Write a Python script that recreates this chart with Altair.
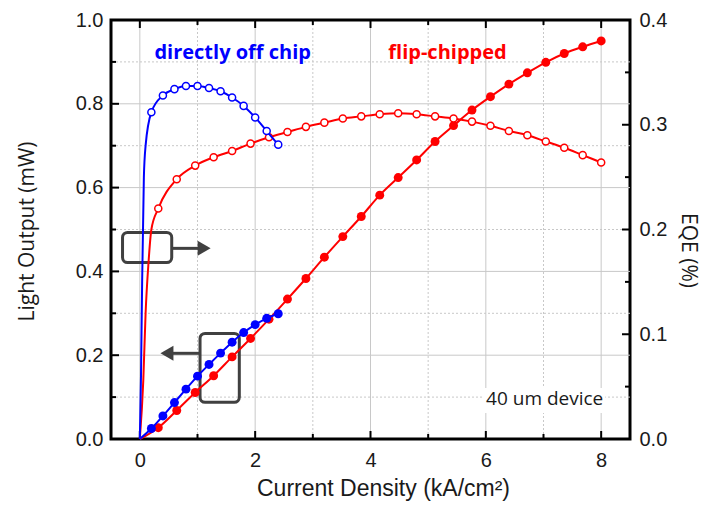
import altair as alt
import pandas as pd

# ---------------- data ----------------
# directly off chip (blue)
blue_J = [0.2, 0.4, 0.6, 0.8, 1.0, 1.2, 1.4, 1.6, 1.8, 2.0, 2.2, 2.4]
blue_L = [0.025, 0.055, 0.087, 0.119, 0.150, 0.178, 0.205, 0.231, 0.254, 0.273, 0.288, 0.299]
blue_EQE = [0.312, 0.328, 0.334, 0.337, 0.337, 0.335, 0.332, 0.326, 0.318, 0.307, 0.294, 0.281]
blue_onset_J = [0.0, 0.02, 0.04, 0.07, 0.1]
blue_onset_EQE = [0.0, 0.06, 0.15, 0.25, 0.28]

# flip-chipped (red)
red_J = [0.32, 0.64, 0.96, 1.28, 1.60, 1.92, 2.24, 2.56, 2.88, 3.20, 3.52, 3.84, 4.16,
         4.48, 4.80, 5.12, 5.44, 5.76, 6.08, 6.40, 6.72, 7.04, 7.36, 7.68, 8.00]
red_L = [0.027, 0.068, 0.111, 0.151, 0.196, 0.240, 0.286, 0.334, 0.383, 0.434, 0.483, 0.531, 0.582,
         0.624, 0.666, 0.710, 0.748, 0.785, 0.817, 0.847, 0.874, 0.899, 0.920, 0.936, 0.950]
red_EQE = [0.220, 0.248, 0.261, 0.269, 0.275, 0.282, 0.288, 0.293, 0.298, 0.302, 0.306, 0.308, 0.310,
           0.311, 0.310, 0.308, 0.306, 0.303, 0.299, 0.294, 0.290, 0.284, 0.278, 0.271, 0.264]
red_onset_J = [0.0, 0.06, 0.1, 0.15, 0.2]
red_onset_EQE = [0.0, 0.056, 0.12, 0.168, 0.2]

# tick values
x_major = [0, 2, 4, 6, 8]
x_minor = [1, 3, 5, 7]
yl_major = [0.2, 0.4, 0.6, 0.8]
yl_minor = [0.1, 0.3, 0.5, 0.7, 0.9]
yl_labels = [0.0, 0.2, 0.4, 0.6, 0.8, 1.0]
yr_major = [0.1, 0.2, 0.3]
yr_minor = [0.05, 0.15, 0.25, 0.35]
yr_labels = [0.0, 0.1, 0.2, 0.3, 0.4]

# annotations
series_labels = ["directly off chip", "flip-chipped"]
series_label_J = [1.61, 5.335]
series_label_L = [0.921, 0.921]
note_text = "40 um device"
note_J, note_L = 7.02, 0.0955
note_box = dict(J1=5.95, J2=8.07, L1=0.062, L2=0.122)
box1 = dict(J1=-0.30, J2=0.553, L1=0.421, L2=0.493)
box2 = dict(J1=1.044, J2=1.725, L1=0.0876, L2=0.252)
arrow1 = dict(J1=0.553, J2=1.02, L=0.455, head_J=1.115)
arrow2 = dict(J1=1.044, J2=0.55, L=0.2045, head_J=0.47)

# ---------------- styling ----------------
W, H = 519, 419
BLUE, RED = "#0000ff", "#ff0000"
GRID = "#c8c8c8"
DARK = "#404040"
TXT = "#1a1a1a"

xs = alt.Scale(domain=[-0.5, 8.5], nice=False, zero=False)
yl = alt.Scale(domain=[0, 1], nice=False, zero=False)
yr = alt.Scale(domain=[0, 0.4], nice=False, zero=False)

x_axis = alt.Axis(values=x_major, format="d", ticks=False, grid=False, domain=False,
                  labelFont="Liberation Sans", labelFontSize=20, labelColor=TXT, labelPadding=11,
                  labelFlush=False, labelOverlap=False,
                  title="Current Density (kA/cm²)", titleFont="Liberation Sans", titleFontSize=23,
                  titleFontWeight="normal", titleColor=TXT, titleX=272, titleY=49,
                  titleAlign="center", titleBaseline="middle")
yl_axis = alt.Axis(values=yl_labels, format=".1f", ticks=False, grid=False, domain=False,
                   labelFont="Liberation Sans", labelFontSize=20, labelColor=TXT, labelPadding=8,
                   labelFlush=False, labelOverlap=False,
                   title="Light Output (mW)", titleFont="Open Sans", titleFontSize=21,
                   titleFontWeight="normal", titleColor=TXT, titleAngle=270, titleX=-84, titleY=211,
                   titleAlign="center", titleBaseline="middle")
yr_axis = alt.Axis(orient="right", values=yr_labels, format=".1f", ticks=False, grid=False, domain=False,
                   labelFont="Liberation Sans", labelFontSize=20, labelColor=TXT, labelPadding=9,
                   labelFlush=False, labelOverlap=False,
                   title="EQE (%)", titleFont="Open Sans", titleFontSize=21,
                   titleFontWeight="normal", titleColor=TXT, titleAngle=90, titleX=57, titleY=230,
                   titleAlign="center", titleBaseline="middle")


def X(f):
    return alt.X(f + ":Q", scale=xs, axis=x_axis)


def YL(f):
    return alt.Y(f + ":Q", scale=yl, axis=yl_axis)


def YR(f):
    return alt.Y(f + ":Q", scale=yr, axis=yr_axis)


df = lambda **kw: pd.DataFrame(kw)

# grid lines
vgrid_major = alt.Chart(df(v=x_major)).mark_rule(color=GRID, strokeWidth=1).encode(x=X("v"))
vgrid_minor = alt.Chart(df(v=x_minor)).mark_rule(color=GRID, strokeWidth=1, strokeDash=[2, 2]).encode(x=X("v"))
hgrid_major = alt.Chart(df(v=yl_major)).mark_rule(color=GRID, strokeWidth=1).encode(y=YL("v"))
hgrid_minor = alt.Chart(df(v=yl_minor)).mark_rule(color=GRID, strokeWidth=1, strokeDash=[2, 2]).encode(y=YL("v"))


# ticks (inward)
def xticks(vals, length):
    d = df(v=vals)
    bottom = alt.Chart(d).mark_rule(color="black", strokeWidth=2).encode(
        x=X("v"), y=alt.value(H), y2=alt.value(H - length))
    top = alt.Chart(d).mark_rule(color="black", strokeWidth=2).encode(
        x=X("v"), y=alt.value(0), y2=alt.value(length))
    return [bottom, top]


def lticks(vals, length):
    return alt.Chart(df(v=vals)).mark_rule(color="black", strokeWidth=2).encode(
        y=YL("v"), x=alt.value(0), x2=alt.value(length))


def rticks(vals, length):
    return alt.Chart(df(v=vals)).mark_rule(color="black", strokeWidth=2).encode(
        y=YR("v"), x=alt.value(W), x2=alt.value(W - length))


# note box + text
note_bg = alt.Chart(df(J1=[note_box["J1"]], J2=[note_box["J2"]], L1=[note_box["L1"]], L2=[note_box["L2"]])).mark_rect(
    fill="white").encode(x=X("J1"), x2="J2", y=YL("L1"), y2="L2")
note = alt.Chart(df(J=[note_J], L=[note_L], t=[note_text])).mark_text(
    font="Open Sans", fontSize=19, color=TXT, align="center", baseline="middle").encode(
    x=X("J"), y=YL("L"), text="t:N")


# annotation boxes and arrows
def box(b):
    return alt.Chart(df(J1=[b["J1"]], J2=[b["J2"]], L1=[b["L1"]], L2=[b["L2"]])).mark_rect(
        fillOpacity=0, stroke=DARK, strokeWidth=3, cornerRadius=5).encode(
        x=X("J1"), x2="J2", y=YL("L1"), y2="L2")


def arrow(a, shape):
    shaft = alt.Chart(df(J1=[a["J1"]], J2=[a["J2"]], L=[a["L"]])).mark_rule(
        color=DARK, strokeWidth=3).encode(x=X("J1"), x2="J2", y=YL("L"))
    head = alt.Chart(df(J=[a["head_J"]], L=[a["L"]])).mark_point(
        shape=shape, size=225, filled=True, color=DARK, opacity=1).encode(x=X("J"), y=YL("L"))
    return [shaft, head]


# data layers
def curve(J, V, color, yfun):
    return alt.Chart(df(J=J, V=V)).mark_line(color=color, strokeWidth=2, interpolate="monotone").encode(
        x=X("J"), y=yfun("V"))


def dots(J, V, color, yfun, filled):
    if filled:
        m = alt.Chart(df(J=J, V=V)).mark_point(shape="circle", filled=True, size=80, color=color, opacity=1)
    else:
        m = alt.Chart(df(J=J, V=V)).mark_point(shape="circle", filled=False, size=50, color=color,
                                               fill="white", fillOpacity=1, strokeWidth=1.5, opacity=1)
    return m.encode(x=X("J"), y=yfun("V"))


labels = alt.Chart(df(J=series_label_J, L=series_label_L, t=series_labels, c=[BLUE, RED])).mark_text(
    font="Open Sans", fontSize=20, fontWeight="bold", align="center", baseline="middle").encode(
    x=X("J"), y=YL("L"), text="t:N", color=alt.Color("c:N", scale=None))

left = alt.layer(
    vgrid_major, vgrid_minor, hgrid_major, hgrid_minor,
    note_bg, note,
    box(box1), box(box2), *arrow(arrow1, "triangle-right"), *arrow(arrow2, "triangle-left"),
    curve([0.0] + red_J, [0.0] + red_L, RED, YL),
    dots(red_J, red_L, RED, YL, True),
    curve([0.0] + blue_J, [0.0] + blue_L, BLUE, YL),
    dots(blue_J, blue_L, BLUE, YL, True),
    labels,
    *xticks(x_major, 8), *xticks(x_minor, 5),
    lticks(yl_major, 8), lticks(yl_minor, 5),
)

right = alt.layer(
    curve(red_onset_J + red_J, red_onset_EQE + red_EQE, RED, YR),
    dots(red_J, red_EQE, RED, YR, False),
    curve(blue_onset_J + blue_J, blue_onset_EQE + blue_EQE, BLUE, YR),
    dots(blue_J, blue_EQE, BLUE, YR, False),
    rticks(yr_major, 8), rticks(yr_minor, 5),
)

chart = alt.layer(left, right).resolve_scale(y="independent").properties(
    width=W, height=H,
    padding={"left": 111, "top": 20, "right": 75, "bottom": 69},
    autosize=alt.AutoSizeParams(type="none"),
    background="white",
).configure_view(stroke="black", strokeWidth=3)

chart.save("out.html", embed_options={"renderer": "svg", "actions": False})
